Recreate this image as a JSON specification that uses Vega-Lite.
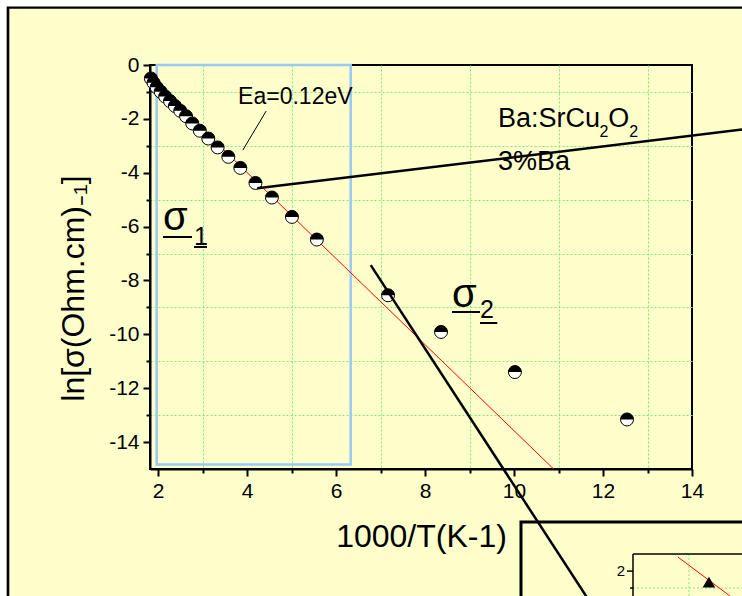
{
  "$schema": "https://vega.github.io/schema/vega-lite/v6.json",
  "width": 542,
  "height": 404,
  "autosize": {"type": "none"},
  "padding": {"left": 150, "top": 65, "right": 50, "bottom": 127},
  "background": "#FFFFCC",
  "config": {
    "view": {"stroke": "black", "strokeWidth": 2},
    "font": "Liberation Sans",
    "text": {"font": "Liberation Sans", "color": "black"}
  },
  "datasets": {
    "points": [
      {"x": 1.84, "y": -0.50}, {"x": 1.90, "y": -0.66}, {"x": 1.97, "y": -0.83},
      {"x": 2.06, "y": -0.99}, {"x": 2.16, "y": -1.17}, {"x": 2.27, "y": -1.34},
      {"x": 2.38, "y": -1.52}, {"x": 2.50, "y": -1.70}, {"x": 2.63, "y": -1.90},
      {"x": 2.77, "y": -2.17}, {"x": 2.94, "y": -2.44}, {"x": 3.13, "y": -2.73},
      {"x": 3.34, "y": -3.06}, {"x": 3.58, "y": -3.41}, {"x": 3.85, "y": -3.82},
      {"x": 4.19, "y": -4.38}, {"x": 4.56, "y": -4.92}, {"x": 5.01, "y": -5.64},
      {"x": 5.57, "y": -6.48}, {"x": 7.17, "y": -8.55}, {"x": 8.36, "y": -9.91},
      {"x": 10.02, "y": -11.40}, {"x": 12.54, "y": -13.16}
    ],
    "redfit": [{"x": 1.83, "y": -0.52}, {"x": 10.89, "y": -15}],
    "fit2": [{"x": 6.78, "y": -7.43}, {"x": 11.98, "y": -20.63}],
    "pointer": [{"x": 4.23, "y": -4.58}, {"x": 15.5, "y": -2.32}],
    "eaLine": [{"x": 3.906, "y": -3.16}, {"x": 4.43, "y": -1.71}],
    "box": [{"x": 1.97, "x2": 6.33, "y": 0, "y2": -14.83}],
    "frame": [{"x": -1.375, "x2": 20, "y": 2.145, "y2": -30}],
    "margin": [{"x": -1.551, "x2": 20, "y": 2.414, "y2": -30}],
    "inset": [{"x": 10.157, "x2": 20, "y": -16.97, "y2": -30}],
    "insetLines": [
      {"x": 12.674, "x2": 16, "y": -18.16, "y2": -18.16},
      {"x": 12.674, "x2": 12.674, "y": -18.16, "y2": -21},
      {"x": 12.539, "x2": 12.674, "y": -18.79, "y2": -18.79},
      {"x": 12.607, "x2": 12.674, "y": -19.42, "y2": -19.42}
    ],
    "insetGrid": [
      {"x": 12.674, "x2": 16, "y": -19.42, "y2": -19.42},
      {"x": 13.932, "x2": 13.932, "y": -18.16, "y2": -21}
    ],
    "insetTri": [{"x": 14.381, "y": -19.2}],
    "insetRed": [{"x": 13.685, "y": -18.27}, {"x": 15.753, "y": -20.83}],
    "underlines": [
      {"x": 2.112, "x2": 2.764, "y": -6.386, "y2": -6.386},
      {"x": 2.809, "x2": 3.101, "y": -6.758, "y2": -6.758},
      {"x": 8.607, "x2": 9.236, "y": -9.171, "y2": -9.171},
      {"x": 9.236, "x2": 9.624, "y": -9.58, "y2": -9.58}
    ],
    "labels": [
      {"x": 3.80, "y": -1.46, "text": "Ea=0.12eV", "kind": "ea"},
      {"x": 9.64, "y": -2.31, "text": "Ba:SrCu", "kind": "big"},
      {"x": 11.92, "y": -2.66, "text": "2", "kind": "sub"},
      {"x": 12.12, "y": -2.31, "text": "O", "kind": "big"},
      {"x": 12.59, "y": -2.66, "text": "2", "kind": "sub"},
      {"x": 9.64, "y": -3.90, "text": "3%Ba", "kind": "big"},
      {"x": 2.112, "y": -6.126, "text": "σ", "kind": "sigma"},
      {"x": 2.809, "y": -6.683, "text": "1", "kind": "sigsub"},
      {"x": 8.607, "y": -8.985, "text": "σ", "kind": "sigma"},
      {"x": 9.236, "y": -9.394, "text": "2", "kind": "sigsub"},
      {"x": 12.494, "y": -18.97, "text": "2", "kind": "inset"}
    ]
  },
  "resolve": {"axis": {"x": "independent", "y": "independent"}},
  "layer": [
    {
      "data": {"name": "frame"},
      "mark": {"type": "rect", "filled": false, "stroke": "black", "strokeWidth": 3},
      "encoding": {
        "x": {"field": "x", "type": "quantitative", "scale": {"domain": [1.82, 14], "nice": false, "zero": false},
          "axis": {"orient": "bottom", "values": [3, 5, 7, 9, 11, 13], "labels": false, "domain": false, "tickSize": 4, "tickWidth": 2, "tickColor": "black", "grid": true, "gridColor": "#7FE87F", "gridDash": [2, 2], "gridWidth": 1, "title": null}},
        "x2": {"field": "x2"},
        "y": {"field": "y", "type": "quantitative", "scale": {"domain": [-15, 0], "nice": false, "zero": false},
          "axis": {"orient": "left", "values": [-13, -11, -9, -7, -5, -3, -1], "labels": false, "domain": false, "tickSize": 4, "tickWidth": 2, "tickColor": "black", "grid": true, "gridColor": "#7FE87F", "gridDash": [2, 2], "gridWidth": 1, "title": null}},
        "y2": {"field": "y2"}
      }
    },
    {
      "layer": [
        {
          "data": {"name": "margin"},
          "mark": {"type": "rect", "filled": false, "stroke": "white", "strokeWidth": 13},
          "encoding": {
            "x": {"field": "x", "type": "quantitative", "scale": {"domain": [1.82, 14], "nice": false, "zero": false},
              "axis": {"orient": "bottom", "values": [2, 4, 6, 8, 10, 12, 14], "grid": false, "domainColor": "black", "domainWidth": 2, "tickColor": "black", "tickWidth": 2, "tickSize": 7, "labelFontSize": 21, "labelColor": "black", "labelFont": "Liberation Sans", "labelPadding": 4, "labelFlush": false, "labelOverlap": false, "labelExpr": "toString(datum.value)", "title": "1000/T(K-1)", "titleFont": "Liberation Sans", "titleFontSize": 32, "titleFontWeight": "normal", "titleColor": "black", "titlePadding": 20}},
            "x2": {"field": "x2"},
            "y": {"field": "y", "type": "quantitative", "scale": {"domain": [-15, 0], "nice": false, "zero": false},
              "axis": {"orient": "left", "values": [-14, -12, -10, -8, -6, -4, -2, 0], "grid": false, "domainColor": "black", "domainWidth": 2, "tickColor": "black", "tickWidth": 2, "tickSize": 7, "labelFontSize": 21, "labelColor": "black", "labelFont": "Liberation Sans", "labelPadding": 4, "labelFlush": false, "labelOverlap": false, "labelExpr": "toString(datum.value)", "title": "ln[σ(Ohm.cm)₋₁]", "titleFont": "Liberation Sans", "titleFontSize": 32, "titleFontWeight": "normal", "titleColor": "black", "titlePadding": 18, "titleY": 223}},
            "y2": {"field": "y2"}
          }
        },
        {
          "data": {"name": "inset"},
          "mark": {"type": "rect", "fill": "#FFFFCC", "stroke": "black", "strokeWidth": 3},
          "encoding": {
            "x": {"field": "x", "type": "quantitative"}, "x2": {"field": "x2"},
            "y": {"field": "y", "type": "quantitative"}, "y2": {"field": "y2"}
          }
        },
        {
          "data": {"name": "insetGrid"},
          "mark": {"type": "rule", "color": "#7FE87F", "strokeWidth": 1, "strokeDash": [2, 2]},
          "encoding": {
            "x": {"field": "x", "type": "quantitative"}, "x2": {"field": "x2"},
            "y": {"field": "y", "type": "quantitative"}, "y2": {"field": "y2"}
          }
        },
        {
          "data": {"name": "insetLines"},
          "mark": {"type": "rule", "color": "black", "strokeWidth": 1.5},
          "encoding": {
            "x": {"field": "x", "type": "quantitative"}, "x2": {"field": "x2"},
            "y": {"field": "y", "type": "quantitative"}, "y2": {"field": "y2"}
          }
        },
        {
          "data": {"name": "insetRed"},
          "mark": {"type": "line", "color": "red", "strokeWidth": 1},
          "encoding": {"x": {"field": "x", "type": "quantitative"}, "y": {"field": "y", "type": "quantitative"}}
        },
        {
          "data": {"name": "insetTri"},
          "mark": {"type": "point", "shape": "triangle-up", "filled": true, "color": "black", "opacity": 1, "size": 160},
          "encoding": {"x": {"field": "x", "type": "quantitative"}, "y": {"field": "y", "type": "quantitative"}}
        },
        {
          "data": {"name": "box"},
          "mark": {"type": "rect", "filled": false, "stroke": "#99C9F5", "strokeWidth": 2.5},
          "encoding": {
            "x": {"field": "x", "type": "quantitative"}, "x2": {"field": "x2"},
            "y": {"field": "y", "type": "quantitative"}, "y2": {"field": "y2"}
          }
        },
        {
          "data": {"name": "redfit"},
          "mark": {"type": "line", "color": "red", "strokeWidth": 1},
          "encoding": {"x": {"field": "x", "type": "quantitative"}, "y": {"field": "y", "type": "quantitative"}}
        },
        {
          "data": {"name": "points"},
          "mark": {"type": "point", "shape": "circle", "filled": true, "fill": "white", "stroke": "black", "strokeWidth": 1, "opacity": 1, "size": 169},
          "encoding": {"x": {"field": "x", "type": "quantitative"}, "y": {"field": "y", "type": "quantitative"}}
        },
        {
          "data": {"name": "points"},
          "mark": {"type": "point", "shape": "M -1 0 A 1 1 0 0 1 1 0 Z", "filled": true, "fill": "black", "strokeWidth": 0, "opacity": 1, "size": 169},
          "encoding": {"x": {"field": "x", "type": "quantitative"}, "y": {"field": "y", "type": "quantitative"}}
        },
        {
          "data": {"name": "fit2"},
          "mark": {"type": "line", "color": "black", "strokeWidth": 2.5},
          "encoding": {"x": {"field": "x", "type": "quantitative"}, "y": {"field": "y", "type": "quantitative"}}
        },
        {
          "data": {"name": "pointer"},
          "mark": {"type": "line", "color": "black", "strokeWidth": 2.5},
          "encoding": {"x": {"field": "x", "type": "quantitative"}, "y": {"field": "y", "type": "quantitative"}}
        },
        {
          "data": {"name": "eaLine"},
          "mark": {"type": "line", "color": "black", "strokeWidth": 1},
          "encoding": {"x": {"field": "x", "type": "quantitative"}, "y": {"field": "y", "type": "quantitative"}}
        },
        {
          "data": {"name": "underlines"},
          "mark": {"type": "rule", "color": "black", "strokeWidth": 2},
          "encoding": {
            "x": {"field": "x", "type": "quantitative"}, "x2": {"field": "x2"},
            "y": {"field": "y", "type": "quantitative"}, "y2": {"field": "y2"}
          }
        },
        {
          "data": {"name": "labels"},
          "transform": [{"filter": "datum.kind === 'ea'"}],
          "mark": {"type": "text", "align": "left", "baseline": "alphabetic", "fontSize": 23},
          "encoding": {"x": {"field": "x", "type": "quantitative"}, "y": {"field": "y", "type": "quantitative"}, "text": {"field": "text"}}
        },
        {
          "data": {"name": "labels"},
          "transform": [{"filter": "datum.kind === 'big'"}],
          "mark": {"type": "text", "align": "left", "baseline": "alphabetic", "fontSize": 27},
          "encoding": {"x": {"field": "x", "type": "quantitative"}, "y": {"field": "y", "type": "quantitative"}, "text": {"field": "text"}}
        },
        {
          "data": {"name": "labels"},
          "transform": [{"filter": "datum.kind === 'sub'"}],
          "mark": {"type": "text", "align": "left", "baseline": "alphabetic", "fontSize": 16},
          "encoding": {"x": {"field": "x", "type": "quantitative"}, "y": {"field": "y", "type": "quantitative"}, "text": {"field": "text"}}
        },
        {
          "data": {"name": "labels"},
          "transform": [{"filter": "datum.kind === 'sigma'"}],
          "mark": {"type": "text", "align": "left", "baseline": "alphabetic", "fontSize": 40},
          "encoding": {"x": {"field": "x", "type": "quantitative"}, "y": {"field": "y", "type": "quantitative"}, "text": {"field": "text"}}
        },
        {
          "data": {"name": "labels"},
          "transform": [{"filter": "datum.kind === 'sigsub'"}],
          "mark": {"type": "text", "align": "left", "baseline": "alphabetic", "fontSize": 25},
          "encoding": {"x": {"field": "x", "type": "quantitative"}, "y": {"field": "y", "type": "quantitative"}, "text": {"field": "text"}}
        },
        {
          "data": {"name": "labels"},
          "transform": [{"filter": "datum.kind === 'inset'"}],
          "mark": {"type": "text", "align": "right", "baseline": "alphabetic", "fontSize": 15},
          "encoding": {"x": {"field": "x", "type": "quantitative"}, "y": {"field": "y", "type": "quantitative"}, "text": {"field": "text"}}
        }
      ]
    }
  ]
}
